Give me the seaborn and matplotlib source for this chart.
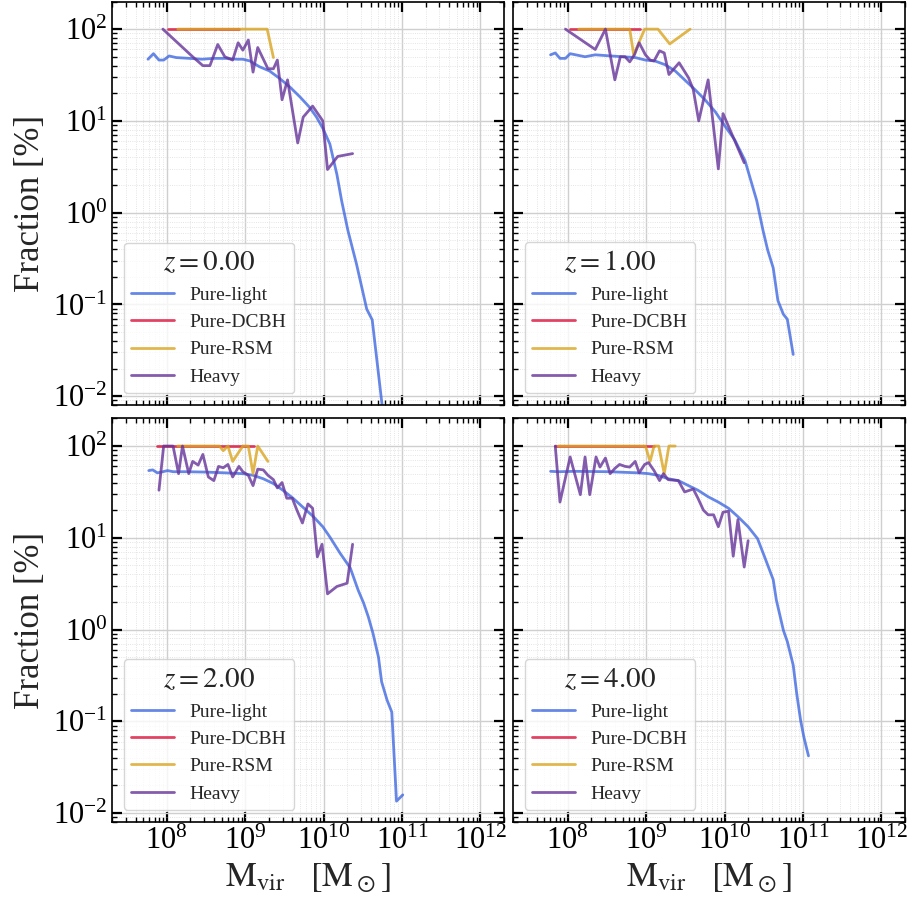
import numpy as np
import pandas as pd
import matplotlib
matplotlib.use("Agg")
import matplotlib.pyplot as plt
import matplotlib.ticker as mticker
import seaborn as sns

# ---------------- data (log10 halo mass, fraction in %) ----------------
redshifts = ["0.00", "1.00", "2.00", "4.00"]
series_names = ["Pure-light", "Pure-DCBH", "Pure-RSM", "Heavy"]

# z = 0
light0_logm = [7.76, 7.83, 7.90, 7.96, 8.03, 8.12, 8.29, 8.45, 8.60, 8.75, 8.90, 8.97, 9.06, 9.18,
               9.31, 9.44, 9.57, 9.70, 9.82, 9.91, 9.99, 10.08, 10.17, 10.23, 10.31, 10.42, 10.55,
               10.62, 10.75]
light0_f = [47, 54, 46, 46, 51, 49, 48, 47, 48, 48, 47, 47, 45, 39, 35, 29, 23.4, 18.2, 14.1, 11,
            8.3, 5.6, 2.6, 1.35, 0.64, 0.275, 0.089, 0.068, 0.0075]
dcbh0_logm = [8.01, 8.30, 8.60, 8.92]
dcbh0_f = [100, 100, 100, 100]
rsm0_logm = [8.14, 8.60, 9.00, 9.28, 9.36]
rsm0_f = [100, 100, 100, 100, 49]
heavy0_logm = [7.95, 8.33, 8.46, 8.55, 8.65, 8.74, 8.84, 8.91, 8.97, 9.04, 9.10, 9.16, 9.29, 9.36,
               9.41, 9.47, 9.54, 9.67, 9.74, 9.86, 9.99, 10.05, 10.18, 10.37]
heavy0_f = [100, 50, 40, 40, 68, 50, 46, 71, 59, 76, 34, 63, 37, 37, 46, 17, 28, 5.75, 11, 14.5,
            10, 2.95, 4.1, 4.4]

# z = 1
light1_logm = [7.78, 7.84, 7.90, 7.97, 8.03, 8.22, 8.35, 8.55, 8.86, 8.99, 9.11, 9.24, 9.37, 9.49,
               9.62, 9.75, 9.88, 10.00, 10.13, 10.26, 10.41, 10.49, 10.55, 10.62, 10.68, 10.75,
               10.80, 10.875]
light1_f = [52.5, 55, 48, 48, 54, 50, 52.5, 51, 49, 46, 45, 41, 35, 28, 22, 17, 12.6, 8.9, 6.2,
            3.7, 1.35, 0.64, 0.39, 0.25, 0.11, 0.078, 0.069, 0.0285]
dcbh1_logm = [8.03, 8.40, 8.70, 8.92]
dcbh1_f = [100, 100, 100, 100]
rsm1_logm = [8.14, 8.50, 8.79, 8.84, 8.98, 9.15, 9.30, 9.56]
rsm1_f = [100, 100, 100, 52.5, 100, 100, 69, 100]
heavy1_logm = [7.97, 8.35, 8.48, 8.60, 8.67, 8.73, 8.79, 8.85, 8.91, 8.99, 9.05, 9.10, 9.17, 9.23,
               9.29, 9.42, 9.54, 9.60, 9.67, 9.79, 9.92, 9.98, 10.25]
heavy1_f = [100, 60, 100, 28, 50, 50, 44, 52.5, 71, 52.5, 46, 45, 58, 55, 32, 43, 29.5, 22, 10,
            28, 3.0, 12, 3.5]

# z = 2
light2_logm = [7.77, 7.82, 7.88, 7.95, 8.01, 8.08, 8.25, 8.50, 8.75, 8.97, 9.10, 9.23, 9.36, 9.48,
               9.61, 9.74, 9.87, 9.99, 10.08, 10.21, 10.34, 10.44, 10.51, 10.57, 10.63, 10.70,
               10.74, 10.81, 10.87, 10.93, 11.01]
light2_f = [54, 55, 51, 52.5, 54, 52.5, 52.5, 52, 51, 50, 48, 44, 39, 33, 27, 21.4, 17, 13.2, 10.2,
            6.8, 4.7, 2.7, 1.95, 1.38, 0.91, 0.50, 0.27, 0.17, 0.126, 0.0135, 0.0158]
dcbh2_logm = [7.88, 8.30, 8.70, 9.11]
dcbh2_f = [100, 100, 100, 100]
rsm2_logm = [8.14, 8.40, 8.67, 8.72, 8.78, 8.84, 8.97, 9.04, 9.10, 9.16, 9.29]
rsm2_f = [100, 100, 100, 89, 100, 68, 100, 100, 50, 100, 68]
heavy2_logm = [7.90, 7.96, 8.08, 8.15, 8.20, 8.28, 8.33, 8.40, 8.46, 8.53, 8.60, 8.66, 8.72, 8.78,
               8.84, 8.92, 8.97, 9.04, 9.10, 9.16, 9.23, 9.29, 9.36, 9.41, 9.47, 9.53, 9.60, 9.66,
               9.73, 9.80, 9.86, 9.92, 9.98, 10.05, 10.17, 10.30, 10.37]
heavy2_f = [33, 100, 100, 50, 100, 50, 68, 62, 81, 46, 42, 60, 58, 63, 46, 60, 52.5, 48, 37, 56,
            55, 48, 43, 35, 40, 27, 27, 20, 14.5, 23.4, 21, 6.2, 8.5, 2.45, 2.95, 3.2, 8.5]

# z = 4
light4_logm = [7.78, 7.88, 8.09, 8.52, 8.90, 9.03, 9.15, 9.28, 9.41, 9.54, 9.66, 9.79, 9.92, 10.05,
               10.17, 10.30, 10.42, 10.51, 10.62, 10.66, 10.75, 10.80, 10.875, 10.92, 10.97,
               11.01, 11.07]
light4_f = [53, 52.5, 53, 52.5, 51, 50, 48, 44, 42, 37, 33, 28, 24.5, 21, 17, 13.2, 9.8, 6.2, 3.5,
            2.1, 0.98, 0.74, 0.41, 0.20, 0.102, 0.068, 0.042]
dcbh4_logm = [7.84, 8.30, 8.70, 9.10]
dcbh4_f = [100, 100, 100, 100]
rsm4_logm = [7.88, 8.40, 8.99, 9.05, 9.10, 9.16, 9.23, 9.29, 9.37]
rsm4_f = [100, 100, 100, 68, 100, 100, 50, 100, 100]
heavy4_logm = [7.84, 7.90, 8.03, 8.16, 8.22, 8.28, 8.36, 8.41, 8.48, 8.54, 8.60, 8.66, 8.73, 8.79,
               8.86, 8.91, 8.98, 9.03, 9.10, 9.17, 9.22, 9.28, 9.41, 9.49, 9.60, 9.66, 9.73, 9.79,
               9.86, 9.92, 9.98, 10.05, 10.11, 10.17, 10.25, 10.30]
heavy4_f = [100, 24.5, 76, 29.5, 76, 29.5, 76, 59, 74, 50, 57, 63, 60, 59, 68, 51, 63, 66, 54, 42,
            50, 43, 42, 31.6, 34, 27, 20, 17.8, 17.8, 13.2, 19, 19.5, 6.3, 15.8, 4.8, 9.3]

panels = [
    [(light0_logm, light0_f), (dcbh0_logm, dcbh0_f), (rsm0_logm, rsm0_f), (heavy0_logm, heavy0_f)],
    [(light1_logm, light1_f), (dcbh1_logm, dcbh1_f), (rsm1_logm, rsm1_f), (heavy1_logm, heavy1_f)],
    [(light2_logm, light2_f), (dcbh2_logm, dcbh2_f), (rsm2_logm, rsm2_f), (heavy2_logm, heavy2_f)],
    [(light4_logm, light4_f), (dcbh4_logm, dcbh4_f), (rsm4_logm, rsm4_f), (heavy4_logm, heavy4_f)],
]
colors = ["royalblue", "crimson", "goldenrod", "rebeccapurple"]

# ---------------- style ----------------
sns.set_theme(style="ticks")
plt.rcParams["font.family"] = ["serif"]
plt.rcParams["font.serif"] = ["Liberation Serif", "DejaVu Serif"]
plt.rcParams["mathtext.fontset"] = "stix"

fig, axes = plt.subplots(2, 2, figsize=(9.13, 9.01), dpi=100, sharex=True, sharey=True)
fig.subplots_adjust(left=112 / 913, right=905 / 913, bottom=1 - 822 / 901, top=1 - 1.5 / 901,
                    wspace=0.023, hspace=0.033)

for k, ax in enumerate(axes.flat):
    for (lm, f), name, c in zip(panels[k], series_names, colors):
        df = pd.DataFrame({"M": np.power(10.0, lm), "F": f})
        sns.lineplot(data=df, x="M", y="F", ax=ax, color=c, alpha=0.8, lw=2.0,
                     label=name, sort=False, estimator=None)
    ax.set_xscale("log")
    ax.set_yscale("log")
    ax.set_xlim(2e7, 2e12)
    ax.set_ylim(8e-3, 200)
    ax.xaxis.set_major_locator(mticker.LogLocator(base=10, numticks=20))
    ax.xaxis.set_minor_locator(mticker.LogLocator(base=10, subs=np.arange(2, 10), numticks=20))
    ax.yaxis.set_major_locator(mticker.LogLocator(base=10, numticks=20))
    ax.yaxis.set_minor_locator(mticker.LogLocator(base=10, subs=np.arange(2, 10), numticks=20))
    ax.xaxis.set_minor_formatter(mticker.NullFormatter())
    ax.yaxis.set_minor_formatter(mticker.NullFormatter())
    ax.grid(which="major", color="#cfcfcf", lw=1.0, ls="-")
    ax.grid(which="minor", color="#dcdcdc", lw=0.6, ls=":")
    ax.set_axisbelow(True)
    ax.tick_params(which="both", direction="in", top=True, right=True, colors="black")
    ax.tick_params(which="major", length=7, width=1.6, labelsize=22)
    ax.tick_params(which="minor", length=3.5, width=1.0)
    for sp in ax.spines.values():
        sp.set_linewidth(1.2)
        sp.set_color("black")
    ax.set_xlabel("")
    ax.set_ylabel("")
    leg = ax.legend(loc="lower left", title=r"$z=%s$" % redshifts[k], fontsize=14,
                    title_fontsize=21, frameon=True, fancybox=True, framealpha=0.8,
                    edgecolor="#cccccc", handlelength=2.2, borderaxespad=0.6)

for ax in axes[:, 0]:
    ax.set_ylabel("Fraction [%]", fontsize=25)
for ax in axes[1, :]:
    ax.set_xlabel(r"$\mathrm{M_{vir}}\quad[\mathrm{M_\odot}]$", fontsize=25)

fig.savefig("out.png", dpi=100)
